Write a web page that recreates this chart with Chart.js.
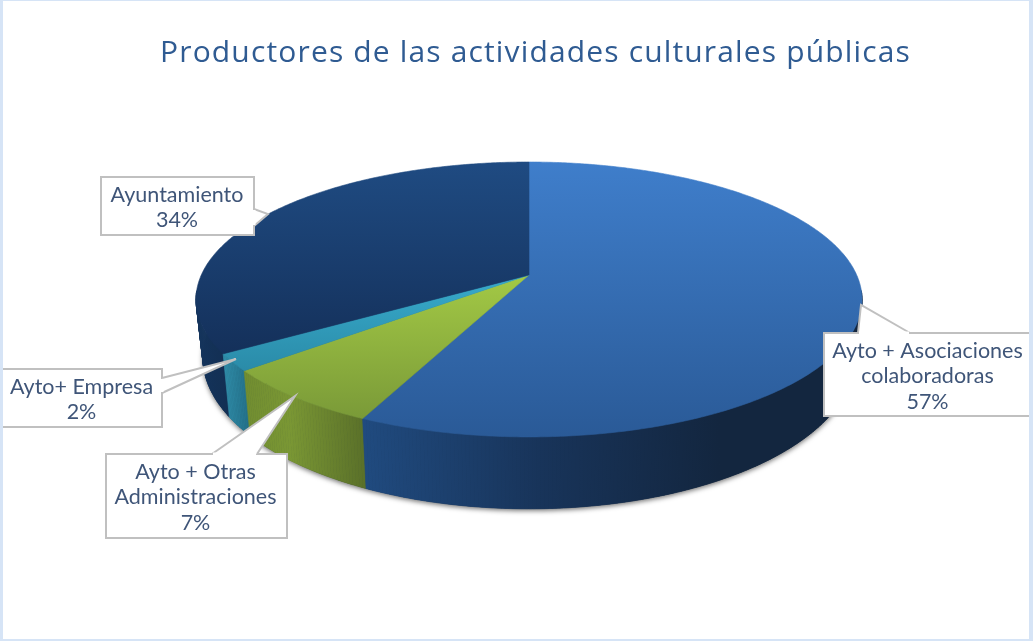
<!DOCTYPE html>
<html><head><meta charset="utf-8">
<style>html,body{margin:0;padding:0;background:#fff}canvas{display:block}</style>
<script src="https://cdn.jsdelivr.net/npm/chart.js@4"></script>
</head><body><canvas id="c" width="1033" height="641"></canvas>
<script>
const titleText = 'Productores de las actividades culturales públicas';
const categories = ['Ayto + Asociaciones colaboradoras','Ayto + Otras Administraciones','Ayto+ Empresa','Ayuntamiento'];
const shares = [57, 7, 2, 34];
const labelLines = [['Ayto + Asociaciones','colaboradoras','57%'],['Ayto + Otras','Administraciones','7%'],['Ayto+ Empresa','2%'],['Ayuntamiento','34%']];

// look of each slice: top-face gradient, wall gradient stops
const faceColors = [['#3f7ecb','#2a5a97'],['#a3c945','#7a9a38'],['#38abcc','#2a8ba8'],['#1f4b82','#14305a']];
const wallColors = [
  [[360,'#204b80'],[540,'#18345a'],[720,'#13263f'],[860,'#13263f']],
  [[240,'#708c30'],[290,'#7a9734'],[365,'#5a7029']],
  [[224,'#2f8ca8'],[248,'#23718a']],
  [[196,'#14345c'],[250,'#122c4e']]
];
// callout geometry: box x,y,w,h and tail polygon
const callouts = [
  {box:[824,333,215,83], tail:[[910,333],[861,305],[858,333]], text:[927.5,351,25.3]},
  {box:[106,454,181,84], tail:[[212,454],[295,396],[257,454]], text:[195.5,472,25.3]},
  {box:[-6,369,168,58],  tail:[[162,378],[236,359],[162,393]], text:[81.5,387,25.3]},
  {box:[101,177,153,58], tail:[[254,209],[268,214],[254,226]], text:[177,195,25.3]}
];

const CX=529, P=0.178;
const topRim = {a:327.7,y:275,b:133.1};
const lowRim = {a:321,y:330,b:147};
function proj(r,th){const u=Math.cos(th),v=Math.sin(th),w=1-P*v;return [CX+r.a*u/w,r.y+r.b*v/w];}
function arcPts(r,s,e){const n=Math.max(2,Math.ceil(Math.abs(e-s)/0.01)),o=[];for(let i=0;i<=n;i++)o.push(proj(r,s+(e-s)*i/n));return o;}
function trace(ctx,pts){pts.forEach((p,i)=>i?ctx.lineTo(p[0],p[1]):ctx.moveTo(p[0],p[1]));ctx.closePath();}

const pie3d = {
  id:'pie3d',
  beforeDraw(chart){
    const {ctx,width:W,height:H}=chart;
    ctx.save();
    ctx.fillStyle='#fff';ctx.fillRect(0,0,W,H);
    ctx.fillStyle='#d6e4f6';
    ctx.fillRect(0,0,3,H);ctx.fillRect(W-4,0,4,H);ctx.fillRect(0,H-2,W,2);ctx.fillRect(0,0,W,1);
    ctx.restore();
    ctx.letterSpacing='1.15px';
  },
  beforeDatasetsDraw(chart){
    const ctx=chart.ctx, arcs=chart.getDatasetMeta(0).data;
    ctx.letterSpacing='0px';
    ctx.save();
    // soft shadow under the base
    ctx.save();
    ctx.shadowColor='rgba(0,0,0,0.55)';ctx.shadowBlur=5;ctx.shadowOffsetY=2;
    ctx.fillStyle='#13263f';
    ctx.beginPath();trace(ctx,arcPts(lowRim,0,Math.PI*2));ctx.fill();
    ctx.restore();
    // walls, back to front, as a ruled surface between the two rims (front-facing part only)
    [3,2,1,0].forEach(i=>{
      const s=arcs[i].startAngle,e=arcs[i].endAngle;
      const stops=wallColors[i],x0=stops[0][0],x1=stops[stops.length-1][0];
      const g=ctx.createLinearGradient(x0,0,x1,0);
      stops.forEach(c=>g.addColorStop((c[0]-x0)/(x1-x0),c[1]));
      ctx.fillStyle=g;ctx.strokeStyle=g;ctx.lineWidth=0.7;
      const T=arcPts(topRim,s,e),L=arcPts(lowRim,s,e),n=T.length-1;
      for(let k=0;k<n;k++){
        if(Math.sin(s+(e-s)*(k+0.5)/n)<P-0.06) continue;
        ctx.beginPath();trace(ctx,[T[k],T[k+1],L[k+1],L[k]]);ctx.fill();ctx.stroke();
      }
    });
    // top faces
    arcs.forEach((arc,i)=>{
      const pts=[[CX,topRim.y]].concat(arcPts(topRim,arc.startAngle,arc.endAngle));
      const ys=pts.map(p=>p[1]);
      const g=ctx.createLinearGradient(0,Math.min(...ys),0,Math.max(...ys));
      g.addColorStop(0,faceColors[i][0]);g.addColorStop(1,faceColors[i][1]);
      ctx.fillStyle=g;ctx.strokeStyle=g;ctx.lineWidth=0.6;
      ctx.beginPath();trace(ctx,pts);ctx.fill();ctx.stroke();
    });
    ctx.restore();
    return false;
  },
  afterDraw(chart){
    const ctx=chart.ctx;
    ctx.save();
    ctx.letterSpacing='0px';
    ctx.beginPath();ctx.rect(3,0,1026,641);ctx.clip();
    callouts.forEach((c,i)=>{
      const [x,y,w,h]=c.box, t=c.tail;
      ctx.strokeStyle='#c0c0c0';ctx.lineWidth=2;ctx.fillStyle='#fff';ctx.lineJoin='miter';
      ctx.beginPath();ctx.rect(x,y,w,h);ctx.fill();ctx.stroke();
      ctx.beginPath();ctx.moveTo(t[0][0],t[0][1]);ctx.lineTo(t[1][0],t[1][1]);ctx.lineTo(t[2][0],t[2][1]);ctx.closePath();ctx.fill();
      ctx.beginPath();ctx.moveTo(t[0][0],t[0][1]);ctx.lineTo(t[1][0],t[1][1]);ctx.lineTo(t[2][0],t[2][1]);ctx.stroke();
      // open the box border under the tail
      ctx.fillStyle='#fff';
      const a=t[0],b=t[2];
      if(a[1]===b[1]){ctx.fillRect(Math.min(a[0],b[0])+1,a[1]-1.5,Math.abs(a[0]-b[0])-2,3.5);}
      else{ctx.fillRect(a[0]-2,Math.min(a[1],b[1])+1,3.5,Math.abs(a[1]-b[1])-2);}
      ctx.fillStyle='#3f5578';
      ctx.font='21.5px Lato, sans-serif';ctx.textAlign='center';ctx.textBaseline='middle';
      labelLines[i].forEach((ln,k)=>ctx.fillText(ln,c.text[0],c.text[1]+k*c.text[2]));
    });
    ctx.restore();
  }
};

new Chart(document.getElementById('c'),{
  type:'pie',
  data:{labels:categories,datasets:[{data:shares,backgroundColor:faceColors.map(c=>c[0])}]},
  options:{
    responsive:false,animation:false,
    layout:{padding:{top:16,left:38}},
    plugins:{
      legend:{display:false},tooltip:{enabled:false},
      title:{display:true,text:titleText,color:'#2f5b92',font:{family:'"Open Sans", sans-serif',size:30,weight:'normal'},padding:{top:19,bottom:10}}
    }
  },
  plugins:[pie3d]
});
</script></body></html>
